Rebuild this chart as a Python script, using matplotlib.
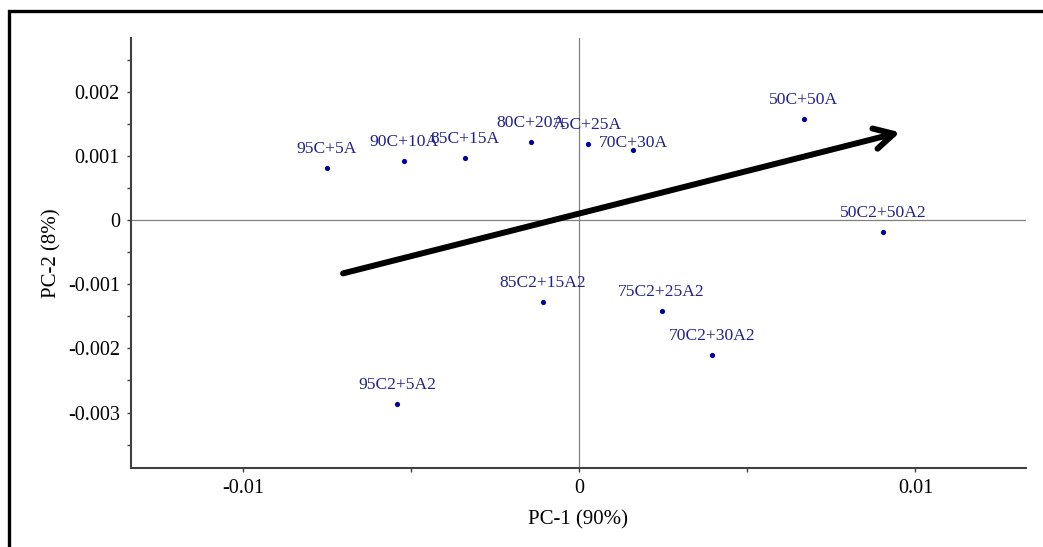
import matplotlib.pyplot as plt
from matplotlib.patches import Rectangle

plt.rcParams['font.family'] = ['Liberation Serif', 'DejaVu Serif']
plt.rcParams['axes.unicode_minus'] = False

# scores das amostras nos dois primeiros componentes
amostras = ["95C+5A", "90C+10A", "85C+15A", "80C+20A", "75C+25A", "70C+30A",
            "50C+50A", "50C2+50A2", "85C2+15A2", "75C2+25A2", "70C2+30A2",
            "95C2+5A2"]
pc1 = [-0.00752, -0.00522, -0.00341, -0.00143, 0.00025, 0.00161,
       0.00667, 0.00904, -0.00109, 0.00245, 0.00395, -0.00543]
pc2 = [0.00082, 0.00092, 0.00097, 0.00122, 0.00119, 0.00110,
       0.00157, -0.00019, -0.00128, -0.00142, -0.00211, -0.00287]

xticks = [-0.01, 0, 0.01]
xtick_labels = ["-0.01", "0", "0.01"]
yticks = [-0.003, -0.002, -0.001, 0, 0.001, 0.002]
ytick_labels = ["-0.003", "-0.002", "-0.001", "0", "0.001", "0.002"]

# seta de tendencia (inicio -> fim)
seta_inicio = (-0.00703, -0.00083)
seta_fim = (0.00954, 0.00137)

# deslocamento do rotulo acima do ponto (pixels)
desloc = [19] * len(amostras)
desloc[5] = 7

fig = plt.figure(figsize=(10.43, 5.47), dpi=100)
ax = fig.add_axes([131 / 1043, 1 - 467.7 / 547, (1026 - 131) / 1043, (467.7 - 38) / 547])

ax.axhline(0, color="#808080", lw=0.9, zorder=1)
ax.axvline(0, color="#808080", lw=0.9, zorder=1)

ax.scatter(pc1, pc2, s=14, color="#0000a0", zorder=3, linewidths=0)
for nome, x, y, d in zip(amostras, pc1, pc2, desloc):
    ax.annotate(nome, (x, y), xytext=(0, d), textcoords="offset pixels",
                ha="center", va="center", fontsize=12.6, color="#22228a", zorder=4)

ax.annotate("", xy=seta_fim, xytext=seta_inicio,
            arrowprops=dict(arrowstyle="->,head_length=1.4,head_width=0.75",
                            lw=4.3, color="black", shrinkA=0, shrinkB=0),
            zorder=5)

ax.set_xlim(-0.01334, 0.01329)
ax.set_ylim(-0.00386, 0.00284)
ax.set_xticks(xticks, xtick_labels)
ax.set_yticks(yticks, ytick_labels)
ax.set_xticks([-0.005, 0.005], minor=True)
ax.set_yticks([-0.0035, -0.0025, -0.0015, -0.0005, 0.0005, 0.0015, 0.0025], minor=True)
ax.tick_params(which="both", direction="out", length=3, width=1, color="#404040",
               labelsize=14.5, pad=5)

for lado in ["top", "right"]:
    ax.spines[lado].set_visible(False)
for lado in ["left", "bottom"]:
    ax.spines[lado].set_color("#404040")
    ax.spines[lado].set_linewidth(1.5)

ax.set_xlabel("PC-1 (90%)", fontsize=15)
ax.set_ylabel("PC-2 (8%)", fontsize=15)
ax.xaxis.set_label_coords(0.5, -0.098)
ax.yaxis.set_label_coords(-0.078, 0.5)

# moldura externa
fig.patches.append(Rectangle((9 / 1043, -0.05), 1.1, 1 - 11 / 547 + 0.05,
                             transform=fig.transFigure, fill=False,
                             lw=2.4, edgecolor="black"))

fig.savefig("out.png", dpi=100)
